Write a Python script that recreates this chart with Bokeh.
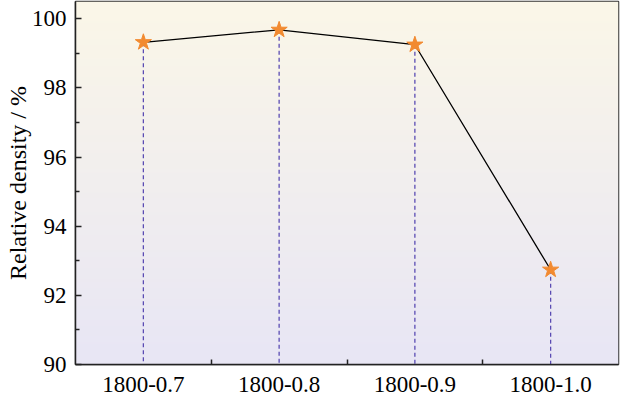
import numpy as np
from bokeh.plotting import figure
from bokeh.models import Range1d, FixedTicker, ColumnDataSource
from bokeh.embed import file_html
from bokeh.resources import INLINE

categories = ["1800-0.7", "1800-0.8", "1800-0.9", "1800-1.0"]
density = [99.32, 99.68, 99.25, 92.74]
y_ticks = [90, 92, 94, 96, 98, 100]
y_minor = [91, 93, 95, 97, 99]
baseline = 90

xs = list(range(len(categories)))
FONT = "Liberation Serif"

p = figure(width=620, height=399, output_backend="svg", toolbar_location=None,
           x_range=Range1d(-0.5, len(categories) - 0.5), y_range=Range1d(90, 100.5),
           min_border_left=75, min_border_right=2, min_border_top=1, min_border_bottom=35)

# gradient background
top = np.array([251, 247, 232])
bot = np.array([232, 230, 245])
n = 200
t = np.linspace(0, 1, n)[:, None]
rgb = (bot * (1 - t) + top * t).astype(np.uint32)
img = np.zeros((n, 1), dtype=np.uint32)
view = img.view(dtype=np.uint8).reshape((n, 1, 4))
view[:, 0, 0] = rgb[:, 0]
view[:, 0, 1] = rgb[:, 1]
view[:, 0, 2] = rgb[:, 2]
view[:, 0, 3] = 255
p.image_rgba(image=[img], x=-0.5, y=90, dw=len(categories), dh=10.5)

p.grid.visible = False
p.background_fill_color = "white"
p.border_fill_color = "white"
p.outline_line_color = "#333333"
p.outline_line_width = 1.5

src = ColumnDataSource(dict(x=xs, y=density, base=[baseline] * len(xs)))
p.segment(x0="x", y0="y", x1="x", y1="base", source=src, line_color="#5a4bb3",
          line_dash="4 3", line_width=1.3)
p.line(x="x", y="y", source=src, line_color="black", line_width=1.3)
p.scatter(x="x", y="y", source=src, marker="star", size=17, fill_color="#f28a30",
          line_color="#f28a30")

p.xaxis.ticker = FixedTicker(ticks=xs, minor_ticks=[i + 0.5 for i in xs[:-1]])
p.xaxis.major_label_overrides = {i: c for i, c in enumerate(categories)}
p.xaxis.major_tick_in = 0
p.xaxis.major_tick_out = 0
p.xaxis.minor_tick_in = 5
p.xaxis.minor_tick_out = 0

p.yaxis.ticker = FixedTicker(ticks=y_ticks, minor_ticks=y_minor)
p.yaxis.major_tick_in = 6
p.yaxis.major_tick_out = 0
p.yaxis.minor_tick_in = 4
p.yaxis.minor_tick_out = 0
p.yaxis.axis_label = "Relative density / %"

for ax in (p.xaxis, p.yaxis):
    ax.axis_line_color = "#222222"
    ax.axis_line_width = 1.5
    ax.major_tick_line_color = "#222222"
    ax.minor_tick_line_color = "#222222"
    ax.major_tick_line_width = 1.5
    ax.minor_tick_line_width = 1.5
    ax.major_label_text_font = FONT
    ax.major_label_text_color = "black"
    ax.axis_label_text_font = FONT
    ax.axis_label_text_font_style = "normal"
    ax.axis_label_text_color = "black"

p.yaxis.major_label_text_font_size = "23px"
p.xaxis.major_label_text_font_size = "23px"
p.yaxis.axis_label_text_font_size = "24px"
p.yaxis.axis_label_standoff = -2
p.yaxis.major_label_standoff = 9
p.xaxis.major_label_standoff = 12

open("out.html", "w").write(file_html(p, INLINE))
